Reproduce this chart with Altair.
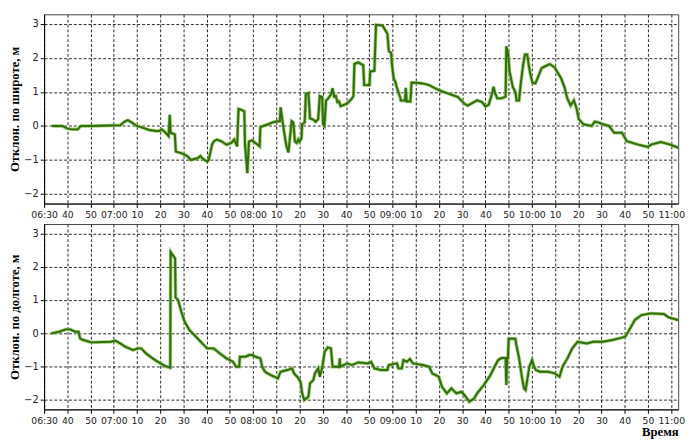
import altair as alt
import pandas as pd

# time in minutes of the day (06:30 = 390), values in metres
lat_t = [393.3, 397.9, 400.0, 402.0, 404.5, 405.8, 410.4, 422.8, 424.5, 426.1, 427.8, 429.9,
         432.4, 435.3, 438.2, 439.4, 440.7, 442.3, 443.6, 444.1, 444.5, 446.3, 446.7, 449.0,
         450.7, 451.9, 453.1, 456.1, 457.3, 458.1, 460.2, 460.9, 462.3, 463.1, 464.4, 466.4,
         468.5, 470.6, 471.8, 473.1, 473.7, 474.8, 476.2, 476.5, 477.0, 477.5, 478.2, 479.6,
         481.0, 482.8, 483.1, 484.4, 486.5, 488.6, 490.7, 491.5, 491.8, 492.7, 493.4, 494.2,
         495.2, 495.8, 496.6, 497.3, 498.0, 498.7, 499.4, 499.9, 500.8, 501.1, 502.2, 502.7,
         503.8, 504.5, 505.9, 506.9, 508.0, 508.7, 509.7, 510.1, 510.7, 511.4, 512.1, 513.5,
         514.2, 514.9, 515.6, 516.3, 517.0, 517.7, 519.1, 520.5, 522.5, 523.2, 523.6, 525.3,
         527.4, 527.8, 530.1, 530.4, 532.2, 532.9, 535.7, 537.8, 538.4, 539.4, 539.8, 540.5,
         541.2, 541.9, 543.3, 543.6, 545.4, 545.7, 546.1, 547.7, 548.2, 550.2, 552.9, 555.8,
         559.9, 564.1, 568.2, 571.0, 572.4, 574.5, 576.5, 578.6, 580.0, 581.4, 582.8, 583.5,
         584.1, 585.1, 586.9, 588.7, 589.0, 589.7, 590.4, 591.1, 591.8, 592.9, 593.4, 594.5,
         595.2, 596.2, 597.0, 598.0, 598.7, 599.4, 600.3, 601.5, 602.8, 604.2, 605.6, 607.7,
         609.8, 612.6, 614.0, 615.3, 616.7, 618.1, 619.3, 620.2, 622.2, 625.7, 627.1, 628.9,
         630.5, 633.3, 635.4, 638.8, 640.9, 645.8, 649.9, 651.3, 655.5, 659.6, 663.0]
lat_v = [0.0, 0.0, -0.08, -0.1, -0.1, 0.0, 0.0, 0.02, 0.12, 0.17, 0.1, 0.0,
         -0.05, -0.12, -0.15, -0.15, -0.1, -0.2, -0.3, 0.33, -0.2, -0.25, -0.75, -0.8,
         -0.85, -0.9, -1.0, -0.95, -0.88, -0.95, -1.05, -1.0, -0.55, -0.45, -0.4, -0.45,
         -0.55, -0.5, -0.4, -0.6, 0.5, 0.48, 0.43, -0.55, -0.95, -1.39, -0.46, -0.42,
         -0.5, -0.6, -0.04, 0.0, 0.05, 0.11, 0.14, 0.14, 0.55, 0.12, -0.2, -0.55,
         -0.78, -0.37, 0.14, 0.1, -0.46, -0.5, -0.4, -0.46, -0.37, 0.05, 0.1, 0.94,
         0.97, 0.22, 0.19, 0.12, 0.2, 0.88, 0.85, 0.05, 0.0, 0.75, 0.79, 0.92,
         1.11, 0.86, 0.88, 0.7, 0.72, 0.58, 0.62, 0.66, 0.8, 0.88, 1.82, 1.87,
         1.78, 1.2, 1.2, 1.6, 1.62, 2.97, 2.95, 2.71, 2.2, 2.15, 1.78, 1.4,
         1.3, 1.12, 0.84, 0.75, 0.75, 1.12, 0.72, 0.72, 1.27, 1.27, 1.25, 1.2,
         1.05, 0.95, 0.85, 0.65, 0.6, 0.68, 0.75, 0.7, 0.57, 0.62, 0.94, 1.15,
         0.98, 0.81, 0.81, 0.86, 2.34, 2.16, 1.6, 1.37, 1.14, 1.0, 0.75, 0.75,
         1.23, 1.78, 2.1, 2.1, 1.78, 1.5, 1.27, 1.25, 1.46, 1.7, 1.75, 1.82,
         1.72, 1.4, 1.15, 0.8, 0.6, 0.75, 0.5, 0.2, 0.05, 0.0, 0.13, 0.1,
         0.05, 0.0, -0.2, -0.2, -0.45, -0.55, -0.62, -0.55, -0.47, -0.55, -0.64]

lon_t = [393.0, 396.5, 399.3, 401.3, 403.4, 404.8, 405.5, 406.9, 410.4, 418.7, 420.7, 422.8,
         424.9, 428.3, 430.4, 431.8, 433.9, 436.7, 440.1, 442.2, 444.3, 444.5, 445.4, 446.4,
         446.6, 447.7, 449.1, 450.5, 452.6, 455.4, 458.1, 460.2, 463.0, 465.7, 468.5, 471.3,
         472.7, 474.0, 474.3, 476.8, 478.2, 479.6, 481.0, 483.1, 483.9, 485.1, 487.6, 490.7,
         491.8, 494.7, 496.8, 497.6, 499.0, 500.4, 501.1, 502.0, 503.8, 504.5, 505.9, 506.6,
         508.0, 508.7, 509.8, 510.8, 512.1, 513.5, 514.2, 517.0, 517.3, 517.5, 520.5, 522.5,
         525.3, 529.5, 530.8, 532.2, 535.0, 537.8, 538.4, 541.9, 542.6, 544.0, 544.7, 546.2,
         547.5, 548.8, 553.0, 555.8, 557.1, 559.9, 561.3, 563.4, 565.4, 567.5, 569.6, 571.0,
         573.1, 575.2, 576.5, 579.3, 582.1, 584.1, 585.5, 586.9, 588.7, 589.0, 589.4, 589.7,
         590.0, 592.9, 593.4, 594.5, 595.7, 596.6, 597.3, 598.0, 598.9, 600.1, 600.7, 601.7,
         603.5, 607.0, 609.8, 611.9, 613.2, 615.3, 617.4, 619.7, 623.6, 626.4, 630.5, 634.7,
         637.5, 640.2, 642.3, 644.3, 647.2, 651.3, 656.8, 658.9, 663.0]
lon_v = [0.0, 0.05, 0.12, 0.12, 0.05, 0.05, -0.15, -0.2, -0.27, -0.25, -0.22, -0.3,
         -0.4, -0.5, -0.45, -0.45, -0.6, -0.75, -0.9, -0.98, -1.03, 2.44, 2.35, 2.25,
         1.08, 1.0, 0.65, 0.35, 0.1, -0.1, -0.3, -0.45, -0.45, -0.6, -0.75, -0.85,
         -1.0, -1.0, -0.7, -0.7, -0.65, -0.65, -0.7, -0.75, -1.0, -1.15, -1.25, -1.35,
         -1.15, -1.1, -1.05, -1.2, -1.3, -1.45, -1.8, -2.0, -1.9, -1.5, -1.4, -1.2,
         -1.05, -1.3, -1.0, -0.55, -0.42, -0.45, -1.0, -1.0, -0.75, -1.0, -0.9, -0.95,
         -0.87, -0.9, -0.85, -1.05, -1.1, -1.1, -0.95, -0.9, -1.05, -1.05, -0.8, -0.85,
         -0.77, -0.9, -0.95, -1.0, -1.2, -1.3, -1.6, -1.8, -1.65, -1.8, -1.75, -1.85,
         -2.05, -1.95, -1.79, -1.55, -1.26, -0.98, -0.8, -0.74, -0.74, -1.55, -0.74, -0.74,
         -0.16, -0.16, -0.38, -0.74, -1.3, -1.65, -1.7, -1.4, -1.0, -0.8, -0.95, -1.1,
         -1.15, -1.15, -1.2, -1.3, -1.0, -0.75, -0.45, -0.25, -0.3, -0.25, -0.25, -0.2,
         -0.15, -0.1, 0.15, 0.4, 0.55, 0.6, 0.58, 0.48, 0.4]

x_ticks = list(range(390, 661, 10))
y_ticks = [-2, -1, 0, 1, 2, 3]
x_domain = [390, 663]
y_domain = [-2.28, 3.28]

label_expr = ("(datum.value % 60 == 0 || datum.value == 390) ? "
              "pad('' + floor(datum.value / 60), 2, '0', 'left') + ':' + pad('' + (datum.value % 60), 2, '0', 'left') : "
              "pad('' + (datum.value % 60), 2, '0', 'left')")


def panel(t, v, ytitle, xtitle, h):
    df = pd.DataFrame({"t": t, "v": v, "i": list(range(len(t)))})
    xaxis_kw = dict(values=x_ticks, labelExpr=label_expr, labelFlush=False, labelOverlap=False,
                    labelFontSize=9.5)
    if xtitle:
        x_axis = alt.Axis(title=xtitle, titleAnchor="end", titlePadding=1, **xaxis_kw)
    else:
        x_axis = alt.Axis(title=None, **xaxis_kw)
    x = alt.X("t:Q", scale=alt.Scale(domain=x_domain, nice=False, zero=False), axis=x_axis)
    y = alt.Y("v:Q", scale=alt.Scale(domain=y_domain, nice=False, zero=False),
              axis=alt.Axis(values=y_ticks, title=ytitle, titlePadding=2))
    base = alt.Chart(df).encode(x=x, y=y, order=alt.Order("i:Q"))
    halo = base.mark_line(color="#8cc456", strokeWidth=3.6, opacity=0.85)
    core = base.mark_line(color="#2f6d0e", strokeWidth=2.0)
    return alt.layer(halo, core).properties(width=650, height=h)


top = panel(lat_t, lat_v, "Отклон. по широте, м", None, 194)
bottom = panel(lon_t, lon_v, "Отклон. по долготе, м", "Время", 190)

chart = alt.vconcat(top, bottom, spacing=4).configure_view(
    stroke="#444", strokeWidth=1
).configure_axis(
    grid=True, gridColor="#000", gridDash=[3, 2], gridWidth=1, gridOpacity=0.85,
    domainColor="#000", domainWidth=1, tickColor="#000", tickSize=4, labelPadding=2,
    labelFont="DejaVu Sans", labelFontSize=10, labelColor="#222",
    titleFont="Liberation Serif", titleFontSize=13, titleFontWeight="bold", titleColor="#000"
).properties(padding=0, background="white")

chart.save("out.html", embed_options={"renderer": "svg", "actions": False})
